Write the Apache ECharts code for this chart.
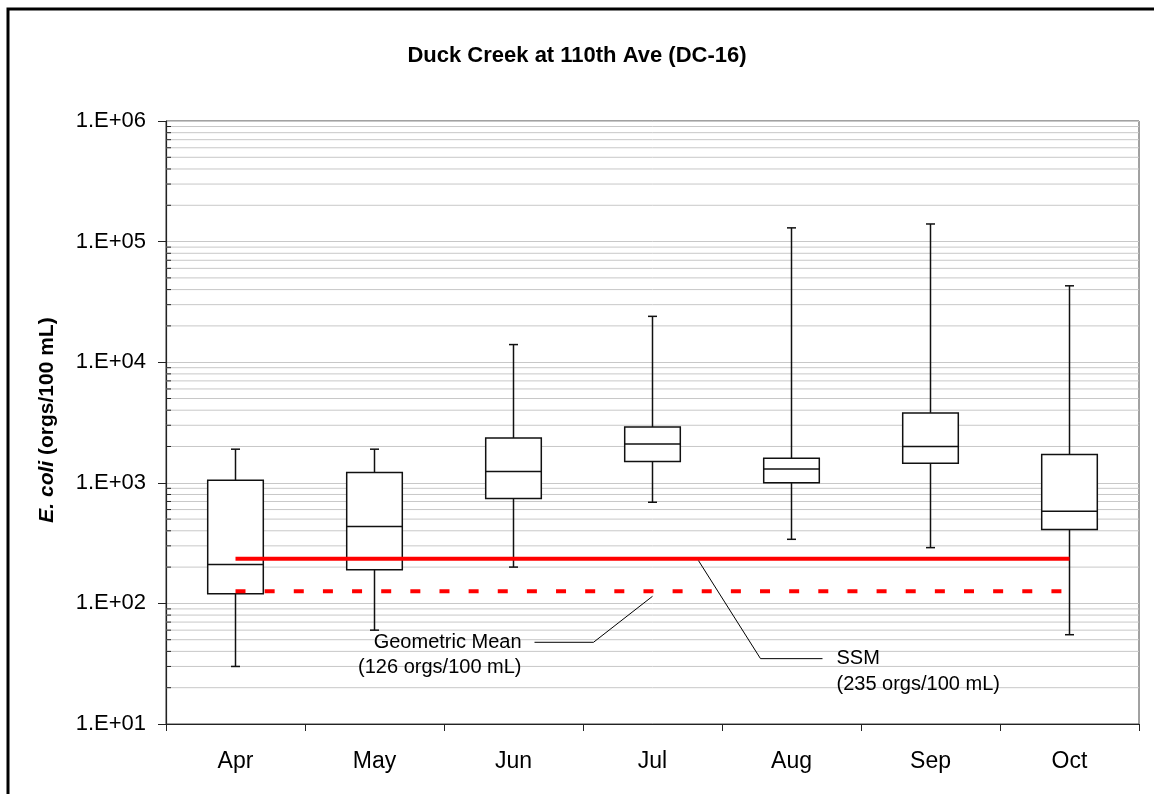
<!DOCTYPE html>
<html>
<head>
<meta charset="utf-8">
<title>Duck Creek at 110th Ave (DC-16)</title>
<script src="https://cdn.jsdelivr.net/npm/echarts@6/dist/echarts.min.js"></script>
<style>
  html, body { margin: 0; padding: 0; background: #fff; }
  #chart { width: 1154px; height: 794px; }
</style>
</head>
<body>
<div id="chart"></div>
<script>
// Monthly E. coli summaries (orgs/100 mL)
const months = ['Apr', 'May', 'Jun', 'Jul', 'Aug', 'Sep', 'Oct'];
const minVals = [30, 60, 200, 690, 340, 290, 55];
const q1Vals = [120, 190, 740, 1500, 1000, 1450, 410];
const medianVals = [210, 435, 1240, 2100, 1300, 2000, 580];
const q3Vals = [1050, 1220, 2350, 2900, 1600, 3800, 1720];
const maxVals = [1900, 1900, 14000, 24000, 130000, 140000, 43000];

// Water quality standards
const ssmValue = 235;      // single sample maximum
const geoMeanValue = 126;  // geometric mean standard

// Log axis labels, one per decade from 1e1 to 1e6
const yTickLabels = ['1.E+01', '1.E+02', '1.E+03', '1.E+04', '1.E+05', '1.E+06'];
const decades = [10, 100, 1000, 10000, 100000];
const minorSteps = [2, 3, 4, 5, 6, 7, 8, 9];

const FONT = '"Liberation Sans", Arial, Helvetica, sans-serif';

const minorGrid = [];
decades.forEach(d => minorSteps.forEach(s => minorGrid.push([0, d * s])));

const boxRows = months.map((m, i) => [i, minVals[i], q1Vals[i], medianVals[i], q3Vals[i], maxVals[i]]);

const chart = echarts.init(document.getElementById('chart'));

function renderMinorGrid(params, api) {
  const cs = params.coordSys;
  const y = api.coord([0, api.value(1)])[1];
  return {
    type: 'group',
    children: [
      { type: 'line', shape: { x1: cs.x, y1: y, x2: cs.x + cs.width, y2: y },
        style: { stroke: '#c8c8c8', lineWidth: 1 } },
      { type: 'line', shape: { x1: cs.x, y1: y, x2: cs.x + 5, y2: y },
        style: { stroke: '#222', lineWidth: 1 } }
    ]
  };
}

function renderBox(params, api) {
  const cs = params.coordSys;
  const i = api.value(0);
  const bandW = cs.width / months.length;
  const boxW = bandW * 0.4;
  const capW = 9;
  const pMin = api.coord([i, api.value(1)]);
  const pQ1 = api.coord([i, api.value(2)]);
  const pMed = api.coord([i, api.value(3)]);
  const pQ3 = api.coord([i, api.value(4)]);
  const pMax = api.coord([i, api.value(5)]);
  const cx = pMed[0];
  const stroke = { stroke: '#111', lineWidth: 1.5, fill: null };
  return {
    type: 'group',
    children: [
      { type: 'line', shape: { x1: cx, y1: pQ3[1], x2: cx, y2: pMax[1] }, style: stroke },
      { type: 'line', shape: { x1: cx - capW / 2, y1: pMax[1], x2: cx + capW / 2, y2: pMax[1] }, style: stroke },
      { type: 'line', shape: { x1: cx, y1: pQ1[1], x2: cx, y2: pMin[1] }, style: stroke },
      { type: 'line', shape: { x1: cx - capW / 2, y1: pMin[1], x2: cx + capW / 2, y2: pMin[1] }, style: stroke },
      { type: 'rect', shape: { x: cx - boxW / 2, y: pQ3[1], width: boxW, height: pQ1[1] - pQ3[1] },
        style: { fill: '#fff', stroke: '#111', lineWidth: 1.5 } },
      { type: 'line', shape: { x1: cx - boxW / 2, y1: pMed[1], x2: cx + boxW / 2, y2: pMed[1] }, style: stroke }
    ]
  };
}

chart.setOption({
  animation: false,
  backgroundColor: '#fff',
  title: {
    text: 'Duck Creek at 110th Ave (DC-16)',
    left: 'center',
    top: 40,
    textStyle: { fontFamily: FONT, fontSize: 22, fontWeight: 'bold', color: '#000' }
  },
  grid: {
    left: 166, right: 15, top: 121, bottom: 70,
    show: true, borderColor: '#444', borderWidth: 1, backgroundColor: 'transparent'
  },
  xAxis: {
    type: 'category',
    data: months,
    boundaryGap: true,
    axisLine: { show: true, lineStyle: { color: '#222', width: 1.2 } },
    axisTick: { show: true, length: 7, lineStyle: { color: '#222' } },
    axisLabel: { fontFamily: FONT, fontSize: 23, color: '#000', margin: 26 },
    splitLine: { show: false }
  },
  yAxis: {
    type: 'log',
    logBase: 10,
    min: 10,
    max: 1000000,
    axisLine: { show: true, lineStyle: { color: '#222', width: 1.2 } },
    axisTick: { show: true, length: 8, lineStyle: { color: '#222' } },
    axisLabel: {
      fontFamily: FONT, fontSize: 22, color: '#000', margin: 20,
      formatter: v => yTickLabels[Math.round(Math.log10(v)) - 1]
    },
    splitLine: { show: true, lineStyle: { color: '#c8c8c8', width: 1 } }
  },
  series: [
    {
      name: 'minor grid',
      type: 'custom',
      renderItem: renderMinorGrid,
      data: minorGrid,
      encode: { x: 0, y: 1 },
      silent: true,
      z: 1
    },
    {
      name: 'E. coli',
      type: 'custom',
      renderItem: renderBox,
      data: boxRows,
      encode: { x: 0, y: [1, 2, 3, 4, 5] },
      z: 3
    },
    {
      name: 'SSM',
      type: 'line',
      data: months.map(() => ssmValue),
      symbol: 'none',
      lineStyle: { color: '#ff0000', width: 4, cap: 'butt' },
      z: 5
    },
    {
      name: 'Geometric Mean',
      type: 'line',
      data: months.map(() => geoMeanValue),
      symbol: 'none',
      lineStyle: { color: '#ff0000', width: 4, type: [10, 19.14], cap: 'butt' },
      z: 5
    }
  ]
});

// Callout annotations anchored on the standard lines
const gmAnchor = chart.convertToPixel({ gridIndex: 0 }, [3, geoMeanValue]);
const ssmAnchor = chart.convertToPixel({ gridIndex: 0 }, [3, ssmValue]);
const gmY = gmAnchor[1] + 51;
const ssmStartX = ssmAnchor[0] + 46;
const ssmY = ssmAnchor[1] + 100;

chart.setOption({
  graphic: [
    {
      type: 'rect',
      shape: { x: 8, y: 9, width: 1160, height: 800 },
      style: { fill: null, stroke: '#000', lineWidth: 3 },
      silent: true
    },
    {
      type: 'text',
      x: 47, y: 420,
      rotation: Math.PI / 2,
      style: {
        text: '{i|E. coli} (orgs/100 mL)',
        font: 'bold 21px ' + FONT,
        fill: '#000',
        align: 'center',
        verticalAlign: 'middle',
        rich: { i: { fontStyle: 'italic', fontWeight: 'bold', fontSize: 21, fontFamily: FONT } }
      }
    },
    {
      type: 'polyline',
      shape: { points: [[gmAnchor[0] - 118, gmY], [gmAnchor[0] - 59, gmY], [gmAnchor[0], gmAnchor[1] + 5]] },
      style: { stroke: '#000', lineWidth: 1, fill: null },
      z: 10
    },
    {
      type: 'text',
      x: gmAnchor[0] - 131, y: gmY + 13,
      style: {
        text: 'Geometric Mean\n(126 orgs/100 mL)',
        font: '20px ' + FONT,
        fill: '#000',
        align: 'right',
        verticalAlign: 'middle',
        lineHeight: 25
      },
      z: 10
    },
    {
      type: 'polyline',
      shape: { points: [[ssmStartX, ssmAnchor[1] + 2], [ssmStartX + 62, ssmY], [ssmStartX + 124, ssmY]] },
      style: { stroke: '#000', lineWidth: 1, fill: null },
      z: 10
    },
    {
      type: 'text',
      x: ssmStartX + 138, y: ssmY + 13,
      style: {
        text: 'SSM\n(235 orgs/100 mL)',
        font: '20px ' + FONT,
        fill: '#000',
        align: 'left',
        verticalAlign: 'middle',
        lineHeight: 26
      },
      z: 10
    }
  ]
});
</script>
</body>
</html>
